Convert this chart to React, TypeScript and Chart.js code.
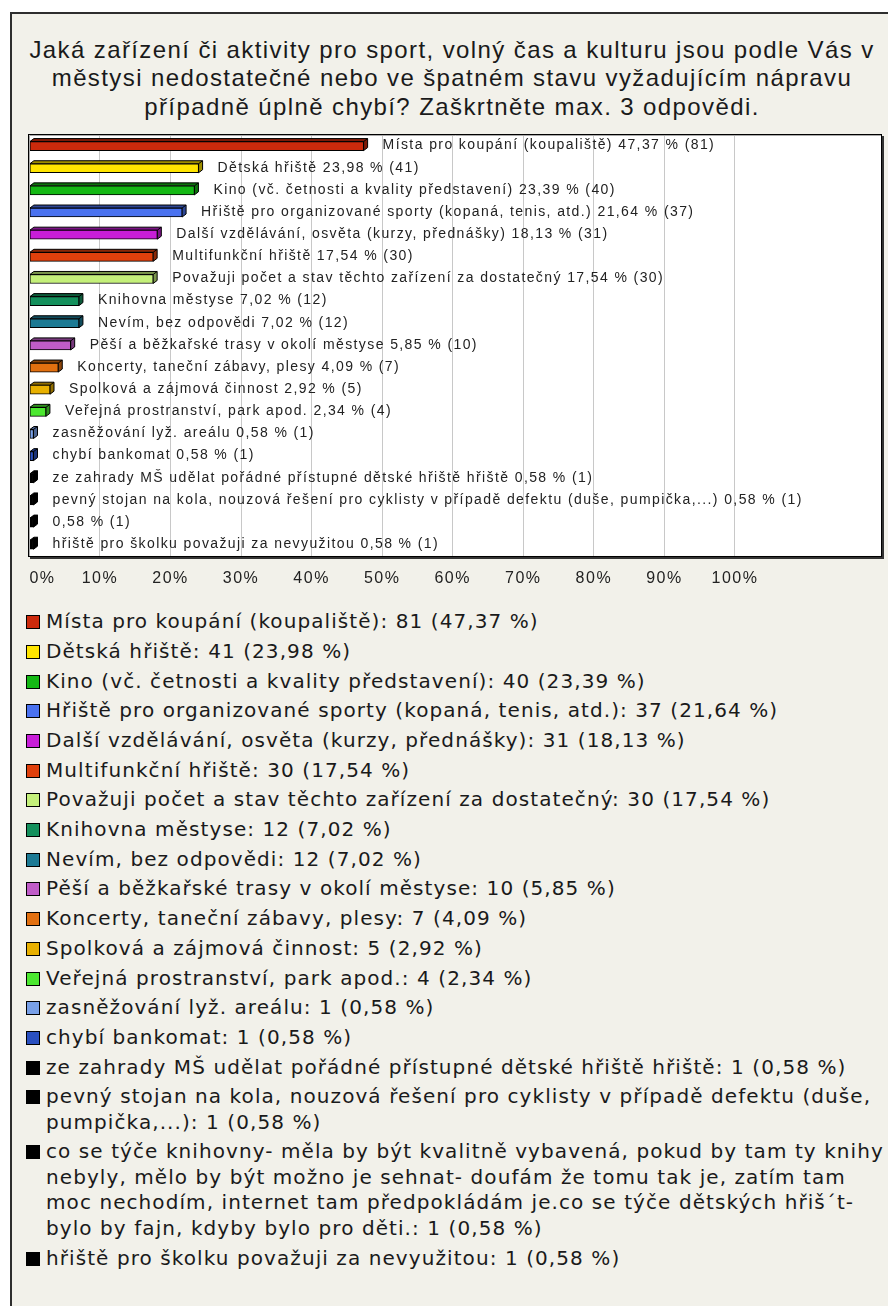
import React, { useEffect, useRef } from 'react';
import { Chart, registerables } from 'chart.js';

Chart.register(...registerables);

const titleLines = [
  'Jaká zařízení či aktivity pro sport, volný čas a kulturu jsou podle Vás v',
  'městysi nedostatečné nebo ve špatném stavu vyžadujícím nápravu',
  'případně úplně chybí? Zaškrtněte max. 3 odpovědi.',
];

const categories = [
  'Místa pro koupání (koupaliště)',
  'Dětská hřiště',
  'Kino (vč. četnosti a kvality představení)',
  'Hřiště pro organizované sporty (kopaná, tenis, atd.)',
  'Další vzdělávání, osvěta (kurzy, přednášky)',
  'Multifunkční hřiště',
  'Považuji počet a stav těchto zařízení za dostatečný',
  'Knihovna městyse',
  'Nevím, bez odpovědi',
  'Pěší a běžkařské trasy v okolí městyse',
  'Koncerty, taneční zábavy, plesy',
  'Spolková a zájmová činnost',
  'Veřejná prostranství, park apod.',
  'zasněžování lyž. areálu',
  'chybí bankomat',
  'ze zahrady MŠ udělat pořádné přístupné dětské hřiště hřiště',
  'pevný stojan na kola, nouzová řešení pro cyklisty v případě defektu (duše, pumpička,...)',
  'co se týče knihovny- měla by být kvalitně vybavená, pokud by tam ty knihy nebyly, mělo by být možno je sehnat- doufám že tomu tak je, zatím tam moc nechodím, internet tam předpokládám je.co se týče dětských hřiš´t-bylo by fajn, kdyby bylo pro děti.',
  'hřiště pro školku považuji za nevyužitou',
];

// names as printed next to the bars (the very long answer is printed without its name)
const barNames = [
  'Místa pro koupání (koupaliště)',
  'Dětská hřiště',
  'Kino (vč. četnosti a kvality představení)',
  'Hřiště pro organizované sporty (kopaná, tenis, atd.)',
  'Další vzdělávání, osvěta (kurzy, přednášky)',
  'Multifunkční hřiště',
  'Považuji počet a stav těchto zařízení za dostatečný',
  'Knihovna městyse',
  'Nevím, bez odpovědi',
  'Pěší a běžkařské trasy v okolí městyse',
  'Koncerty, taneční zábavy, plesy',
  'Spolková a zájmová činnost',
  'Veřejná prostranství, park apod.',
  'zasněžování lyž. areálu',
  'chybí bankomat',
  'ze zahrady MŠ udělat pořádné přístupné dětské hřiště hřiště',
  'pevný stojan na kola, nouzová řešení pro cyklisty v případě defektu (duše, pumpička,...)',
  '',
  'hřiště pro školku považuji za nevyužitou',
];

const percents = [47.37, 23.98, 23.39, 21.64, 18.13, 17.54, 17.54, 7.02, 7.02, 5.85, 4.09, 2.92, 2.34, 0.58, 0.58, 0.58, 0.58, 0.58, 0.58];
const counts = [81, 41, 40, 37, 31, 30, 30, 12, 12, 10, 7, 5, 4, 1, 1, 1, 1, 1, 1];

const colors = [
  '#cc2a0c', '#ffe500', '#14b814', '#4a72f0', '#c81ed8', '#e0400c', '#c4f07a',
  '#14905c', '#1c7a94', '#c05cc8', '#e27010', '#e8b000', '#4ce830', '#78a0e8',
  '#2a50c0', '#000000', '#000000', '#000000', '#000000',
];

const xTicks = [0, 10, 20, 30, 40, 50, 60, 70, 80, 90, 100];
const xMax = 120.7;

const fmt = (v: number) => v.toFixed(2).replace('.', ',');

function shade(hex: string, f: number) {
  const n = parseInt(hex.slice(1), 16);
  const r = Math.round(((n >> 16) & 255) * f);
  const g = Math.round(((n >> 8) & 255) * f);
  const b = Math.round((n & 255) * f);
  return `rgb(${r},${g},${b})`;
}

const bar3d = {
  id: 'bar3d',
  beforeDraw(chart: any) {
    const { ctx, chartArea: a } = chart;
    ctx.save();
    ctx.fillStyle = '#ffffff';
    ctx.fillRect(a.left, a.top, a.right - a.left, a.bottom - a.top);
    ctx.restore();
    ctx.letterSpacing = '1.5px';
  },
  beforeDatasetsDraw(chart: any) {
    const ctx = chart.ctx;
    const meta = chart.getDatasetMeta(0);
    const DX = 4;
    const DY = 3;
    ctx.save();
    ctx.lineWidth = 1;
    ctx.strokeStyle = '#000';
    meta.data.forEach((el: any, i: number) => {
      const { x, y, base, height } = el.getProps(['x', 'y', 'base', 'height'], true);
      const top = y - height / 2;
      const bottom = y + height / 2;
      ctx.fillStyle = shade(colors[i], 0.62);
      ctx.beginPath();
      ctx.moveTo(base, top);
      ctx.lineTo(base + DX, top - DY);
      ctx.lineTo(x + DX, top - DY);
      ctx.lineTo(x + DX, bottom - DY);
      ctx.lineTo(x, bottom);
      ctx.lineTo(x, top);
      ctx.closePath();
      ctx.fill();
      ctx.stroke();
      ctx.beginPath();
      ctx.moveTo(x, top);
      ctx.lineTo(x + DX, top - DY);
      ctx.stroke();
    });
    ctx.restore();
  },
  afterDatasetsDraw(chart: any) {
    const ctx = chart.ctx;
    const meta = chart.getDatasetMeta(0);
    ctx.save();
    ctx.font = '14px "Liberation Sans", Arial, sans-serif';
    ctx.letterSpacing = '1.4px';
    ctx.fillStyle = '#222';
    ctx.textAlign = 'left';
    ctx.textBaseline = 'middle';
    meta.data.forEach((el: any, i: number) => {
      const { x, y } = el.getProps(['x', 'y'], true);
      const name = barNames[i];
      const txt = (name ? name + ' ' : '') + fmt(percents[i]) + ' % (' + counts[i] + ')';
      ctx.fillText(txt, x + 19, y - 0.5);
    });
    ctx.restore();
  },
  afterDraw(chart: any) {
    const { ctx, chartArea: a } = chart;
    const L = Math.round(a.left) - 1;
    const T = Math.round(a.top) - 1;
    const R = Math.round(a.right);
    const B = Math.round(a.bottom);
    ctx.save();
    ctx.letterSpacing = '0px';
    ctx.strokeStyle = '#000';
    ctx.lineWidth = 1;
    ctx.strokeRect(L + 0.5, T + 0.5, R - L, B - T);
    ctx.strokeStyle = '#aaa';
    ctx.beginPath();
    ctx.moveTo(L + 1.5, B);
    ctx.lineTo(L + 1.5, T + 1.5);
    ctx.lineTo(R, T + 1.5);
    ctx.stroke();
    ctx.fillStyle = '#333';
    ctx.fillRect(R + 1, T + 2, 2, B - T + 1);
    ctx.fillRect(L + 2, B + 1, R - L + 1, 2);
    ctx.restore();
  },
};

function BarChart() {
  const ref = useRef<HTMLCanvasElement>(null);
  useEffect(() => {
    const chart = new Chart(ref.current as HTMLCanvasElement, {
      type: 'bar',
      data: {
        labels: categories,
        datasets: [
          {
            data: percents,
            backgroundColor: colors,
            borderColor: '#000',
            borderWidth: 1,
            borderSkipped: false,
            barThickness: 9,
          },
        ],
      },
      options: {
        indexAxis: 'y',
        animation: false,
        responsive: false,
        devicePixelRatio: 1,
        events: [],
        layout: { padding: { left: 17.4, right: 7, top: 15, bottom: 13 } },
        plugins: { legend: { display: false }, title: { display: false }, tooltip: { enabled: false } },
        scales: {
          y: { display: false },
          x: {
            min: 0,
            max: xMax,
            border: { display: false },
            grid: {
              color: (c: any) => (c.tick && xTicks.includes(c.tick.value) && c.tick.value > 0 ? '#c8c8c8' : 'rgba(0,0,0,0)'),
              lineWidth: 1,
              drawTicks: true,
              tickLength: 10,
              tickColor: 'rgba(0,0,0,0)',
            },
            ticks: {
              stepSize: 10,
              autoSkip: false,
              maxRotation: 0,
              align: 'inner',
              padding: 3,
              color: '#222',
              font: { family: '"Liberation Sans", Arial, sans-serif', size: 16 },
              callback: (v: any) => (xTicks.includes(Number(v)) ? v + '%' : ''),
            },
          },
        },
      },
      plugins: [bar3d],
    } as any);
    return () => chart.destroy();
  }, []);
  return <canvas ref={ref} width={876} height={484} style={{ position: 'absolute', left: 0, top: 106, display: 'block' }} />;
}

export default function App() {
  return (
    <div style={{ position: 'absolute', left: 0, top: 0, width: 888, height: 1306, overflow: 'hidden', background: '#fff' }}>
      <div
        style={{
          position: 'absolute',
          left: 10,
          top: 12,
          width: 900,
          height: 1320,
          border: '2px solid #2e2e2e',
          background: '#f2f1ea',
          boxSizing: 'border-box',
        }}
      >
        <div
          style={{
            position: 'absolute',
            left: 0,
            top: 21.75,
            width: 880,
            textAlign: 'center',
            fontFamily: '"Liberation Sans", Arial, sans-serif',
            fontSize: 24,
            letterSpacing: '1.4px',
            lineHeight: '28.5px',
            color: '#1a1a1a',
          }}
        >
          {titleLines.map((t, i) => (
            <div key={i} style={{ whiteSpace: 'nowrap' }}>{t}</div>
          ))}
        </div>
        <BarChart />
        <div
          style={{
            position: 'absolute',
            left: 14,
            top: 595.25,
            width: 866,
            fontFamily: '"DejaVu Sans", Verdana, sans-serif',
            fontSize: 20,
            letterSpacing: '1.08px',
            lineHeight: '25.5px',
            color: '#1a1a1a',
          }}
        >
          {categories.map((c, i) => (
            <div key={i} style={{ display: 'flex', alignItems: 'flex-start', marginBottom: 4.2 }}>
              <div
                style={{
                  flex: '0 0 auto',
                  width: 12,
                  height: 12,
                  marginTop: 6,
                  marginRight: 6,
                  border: '1px solid #000',
                  background: colors[i],
                }}
              />
              <div style={{ flex: '1 1 auto' }}>{`${c}: ${counts[i]} (${fmt(percents[i])} %)`}</div>
            </div>
          ))}
        </div>
      </div>
    </div>
  );
}
